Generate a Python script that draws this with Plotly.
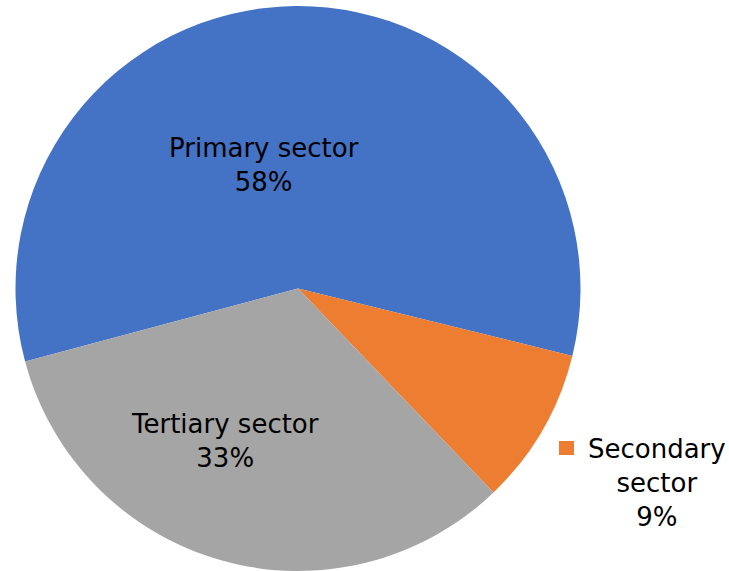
import plotly.graph_objects as go

labels = ["Primary sector", "Secondary sector", "Tertiary sector"]
values = [58, 9, 33]
colors = ["#4472C4", "#ED7D31", "#A5A5A5"]

W, H = 729, 571

fig = go.Figure(go.Pie(
    labels=labels,
    values=values,
    sort=False,
    direction="clockwise",
    rotation=255,
    marker=dict(colors=colors, line=dict(color="white", width=0)),
    textinfo="none",
    hoverinfo="skip",
    showlegend=False,
    domain=dict(x=[14/W, 582/W], y=[0, 565/H]),
))

font = dict(family="DejaVu Sans, Verdana, sans-serif", size=26, color="#000000")

# Primary (inside)
fig.add_annotation(x=264/W, y=1-165/H, xref="paper", yref="paper",
                   text=f"{labels[0]}<br>{values[0]}%", showarrow=False,
                   font=font, align="center", xanchor="center", yanchor="middle")
# Tertiary (inside)
fig.add_annotation(x=225/W, y=1-441/H, xref="paper", yref="paper",
                   text=f"{labels[2]}<br>{values[2]}%", showarrow=False,
                   font=font, align="center", xanchor="center", yanchor="middle")
# Secondary (outside, with legend key)
sec_words = labels[1].split(" ")
fig.add_annotation(x=657/W, y=1-483/H, xref="paper", yref="paper",
                   text=f"{sec_words[0]}<br>{sec_words[1]}<br>{values[1]}%", showarrow=False,
                   font=font, align="center", xanchor="center", yanchor="middle")
fig.add_shape(type="rect", xref="paper", yref="paper",
              x0=559/W, x1=574/W, y0=1-455/H, y1=1-441/H,
              fillcolor=colors[1], line=dict(width=0))

fig.update_layout(
    width=W, height=H,
    margin=dict(l=0, r=0, t=0, b=0),
    paper_bgcolor="white", plot_bgcolor="white",
)

fig.write_html("out.html",
               config={"displayModeBar": False},
               post_script="document.body.style.margin='0';document.body.style.overflow='hidden';")
